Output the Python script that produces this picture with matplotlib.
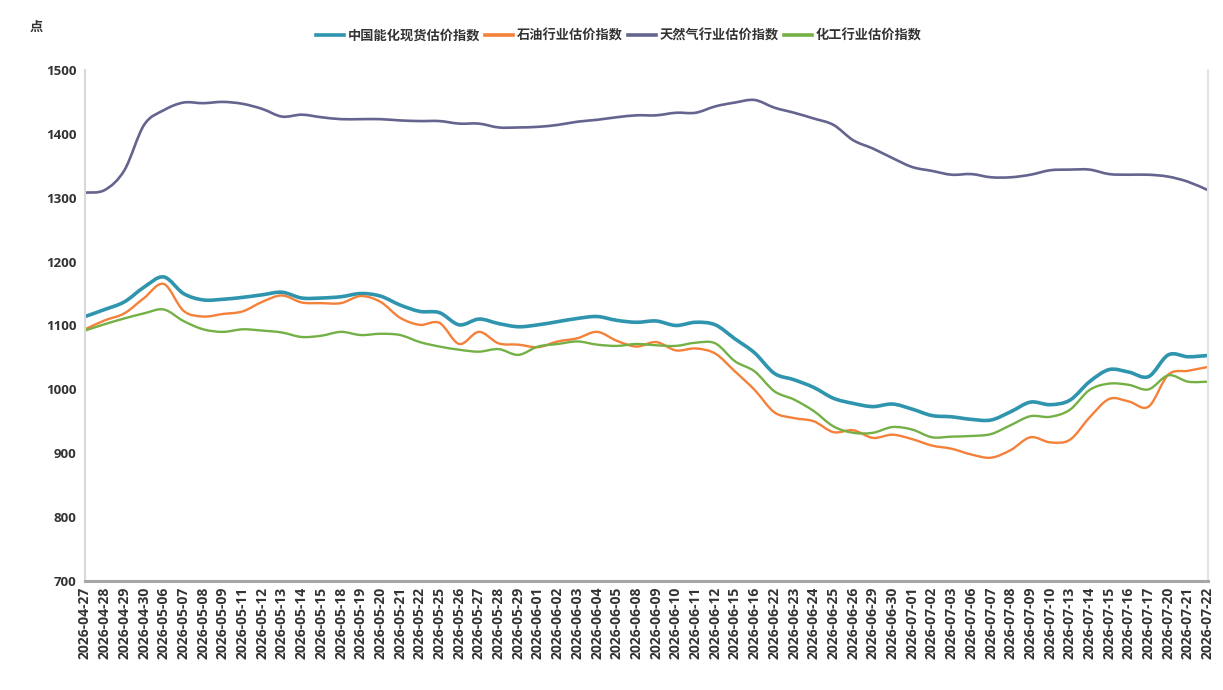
import matplotlib
matplotlib.use("Agg")
import matplotlib.pyplot as plt
import numpy as np
from matplotlib.path import Path
from matplotlib.patches import PathPatch
from matplotlib.lines import Line2D

plt.rcParams['font.family'] = ['Noto Sans CJK SC', 'DejaVu Sans']

dates = ["2026-04-27", "2026-04-28", "2026-04-29", "2026-04-30", "2026-05-06", "2026-05-07",
         "2026-05-08", "2026-05-09", "2026-05-11", "2026-05-12", "2026-05-13", "2026-05-14",
         "2026-05-15", "2026-05-18", "2026-05-19", "2026-05-20", "2026-05-21", "2026-05-22",
         "2026-05-25", "2026-05-26", "2026-05-27", "2026-05-28", "2026-05-29", "2026-06-01",
         "2026-06-02", "2026-06-03", "2026-06-04", "2026-06-05", "2026-06-08", "2026-06-09",
         "2026-06-10", "2026-06-11", "2026-06-12", "2026-06-15", "2026-06-16", "2026-06-22",
         "2026-06-23", "2026-06-24", "2026-06-25", "2026-06-26", "2026-06-29", "2026-06-30",
         "2026-07-01", "2026-07-02", "2026-07-03", "2026-07-06", "2026-07-07", "2026-07-08",
         "2026-07-09", "2026-07-10", "2026-07-13", "2026-07-14", "2026-07-15", "2026-07-16",
         "2026-07-17", "2026-07-20", "2026-07-21", "2026-07-22"]

energy_chem = [1114, 1125, 1137, 1160, 1176, 1150, 1140, 1141, 1144, 1148, 1152, 1143,
               1143, 1145, 1150, 1146, 1132, 1122, 1120, 1101, 1110, 1103, 1098, 1101,
               1106, 1111, 1114, 1108, 1105, 1107, 1100, 1105, 1101, 1079, 1057, 1025,
               1015, 1003, 986, 978, 973, 977, 969, 959, 957, 953, 952, 965,
               980, 976, 983, 1012, 1031, 1027, 1020, 1054, 1051, 1053]

oil = [1094, 1108, 1119, 1143, 1165, 1123, 1114, 1118, 1122, 1137, 1147, 1136,
       1135, 1135, 1146, 1137, 1112, 1101, 1104, 1071, 1090, 1072, 1070, 1066,
       1075, 1080, 1090, 1076, 1067, 1074, 1061, 1064, 1056, 1028, 999, 964,
       955, 950, 933, 936, 924, 929, 922, 912, 907, 898, 893, 905,
       925, 917, 921, 956, 985, 981, 973, 1023, 1029, 1035]

natgas = [1308, 1312, 1343, 1414, 1437, 1449, 1448, 1450, 1447, 1439, 1427, 1430,
          1426, 1423, 1423, 1423, 1421, 1420, 1420, 1416, 1416, 1410, 1410, 1411,
          1414, 1419, 1422, 1426, 1429, 1429, 1433, 1433, 1443, 1449, 1453, 1441,
          1433, 1424, 1414, 1390, 1377, 1362, 1348, 1342, 1336, 1337, 1332, 1332,
          1336, 1343, 1344, 1344, 1337, 1336, 1336, 1333, 1325, 1312]

chemical = [1092, 1102, 1111, 1119, 1125, 1107, 1094, 1090, 1094, 1092, 1089, 1082,
            1084, 1090, 1085, 1087, 1085, 1074, 1067, 1062, 1059, 1063, 1054, 1067,
            1071, 1075, 1070, 1068, 1071, 1069, 1068, 1073, 1072, 1044, 1028, 997,
            984, 966, 942, 932, 932, 941, 937, 925, 926, 927, 930, 944,
            958, 957, 968, 999, 1009, 1007, 1000, 1022, 1012, 1012]

series_names = ["中国能化现货估价指数", "石油行业估价指数", "天然气行业估价指数", "化工行业估价指数"]
series_values = [energy_chem, oil, natgas, chemical]
colors = ["#2f95ae", "#f4803a", "#64648f", "#73b045"]
widths = [2.6, 1.7, 1.9, 1.7]
y_ticks = [700, 800, 900, 1000, 1100, 1200, 1300, 1400, 1500]


def smooth_path(x, y, c=1 / 6):
    x = np.asarray(x, float)
    y = np.asarray(y, float)
    n = len(x)
    verts = [(x[0], y[0])]
    codes = [Path.MOVETO]
    for i in range(n - 1):
        p0 = i - 1 if i > 0 else i
        p3 = i + 2 if i + 2 < n else i + 1
        c1 = (x[i] + (x[i + 1] - x[p0]) * c, y[i] + (y[i + 1] - y[p0]) * c)
        c2 = (x[i + 1] - (x[p3] - x[i]) * c, y[i + 1] - (y[p3] - y[i]) * c)
        verts += [c1, c2, (x[i + 1], y[i + 1])]
        codes += [Path.CURVE4] * 3
    return Path(verts, codes)


fig = plt.figure(figsize=(12.23, 6.9), dpi=100)
ax = fig.add_axes([0.0695, 0.158, 0.918, 0.7406])

xs = np.arange(len(dates))
handles = []
for name, vals, col, w in zip(series_names, series_values, colors, widths):
    p = smooth_path(xs, vals)
    ax.add_patch(PathPatch(p, facecolor="none", edgecolor=col, lw=w, capstyle="round", joinstyle="round"))
    handles.append(Line2D([], [], color=col, lw=2.6))

ax.set_xlim(0, len(dates) - 1)
ax.set_ylim(700, 1500)
ax.set_yticks(y_ticks)
ax.set_yticklabels([str(v) for v in y_ticks], fontsize=9.5, fontweight="bold", color="#333333",
                   family=["Open Sans", "DejaVu Sans"])
ax.set_xticks(xs)
ax.set_xticklabels(dates, rotation=90, fontsize=10, fontweight="bold", color="#333333",
                   family=["Open Sans", "DejaVu Sans"])
ax.tick_params(axis="both", length=0, pad=6)
ax.tick_params(axis="x", pad=4)

ax.spines["top"].set_visible(False)
ax.spines["left"].set_color("#d9d9d9")
ax.spines["left"].set_linewidth(1.5)
ax.spines["right"].set_color("#e3e3e3")
ax.spines["right"].set_linewidth(1.5)
ax.spines["bottom"].set_color("#a6a6a6")
ax.spines["bottom"].set_linewidth(2.2)

fig.text(36 / 1223, 1 - 27 / 690, "点", fontsize=9.5, fontweight="bold", color="#333333",
         ha="center", va="center")

leg = fig.legend(handles, series_names, loc="center", bbox_to_anchor=(619 / 1223, 1 - 36 / 690),
                 ncol=4, frameon=False, handlelength=2.1, handletextpad=0.3,
                 columnspacing=0.4, prop={"weight": "bold", "size": 9.5})
for t in leg.get_texts():
    t.set_color("#333333")

fig.savefig("out.png", dpi=100)
